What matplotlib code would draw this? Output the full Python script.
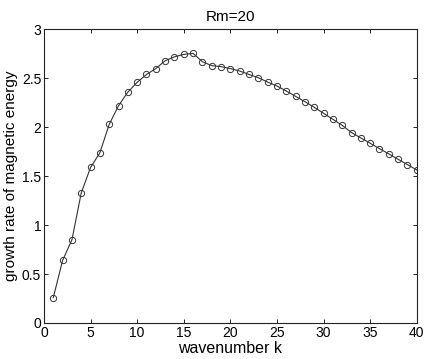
import numpy as np
import matplotlib
matplotlib.use("Agg")
import matplotlib.pyplot as plt

plt.rcParams['font.family'] = ['Liberation Sans', 'DejaVu Sans']

# wavenumber k and growth rate
k = np.arange(1, 41)
growth = [0.26, 0.64, 0.85, 1.33, 1.59, 1.74, 2.03, 2.22, 2.36, 2.46,
          2.54, 2.60, 2.68, 2.72, 2.745, 2.755, 2.67, 2.63, 2.62, 2.60,
          2.575, 2.54, 2.507, 2.462, 2.422, 2.371, 2.316, 2.262, 2.204, 2.143,
          2.082, 2.020, 1.946, 1.891, 1.837, 1.782, 1.728, 1.673, 1.619, 1.564]

xticks = [0, 5, 10, 15, 20, 25, 30, 35, 40]
yticks = [0, 0.5, 1, 1.5, 2, 2.5, 3]
ylabels = ['0', '0.5', '1', '1.5', '2', '2.5', '3']

fig = plt.figure(figsize=(4.27, 3.59), dpi=100)
ax = fig.add_axes([0.103, 0.1003, 0.873, 0.8177])

ax.plot(k, growth, '-o', color='#333333', lw=0.8, markersize=4.5,
        markerfacecolor='none', markeredgewidth=0.7)

ax.set_xlim(0, 40)
ax.set_ylim(0, 3)
ax.set_xticks(xticks)
ax.set_yticks(yticks)
ax.set_yticklabels(ylabels)
ax.tick_params(direction='in', top=True, right=True, length=3, width=0.6,
               labelsize=10, pad=2)
for s in ax.spines.values():
    s.set_linewidth(0.8)
    s.set_color('#222222')

ax.set_xlabel('wavenumber k', fontsize=11.5, labelpad=1)
ax.set_ylabel('growth rate of magnetic energy', fontsize=11, labelpad=3)
ax.set_title('Rm=20', fontsize=11, pad=6)

fig.savefig('out.png', dpi=100)
